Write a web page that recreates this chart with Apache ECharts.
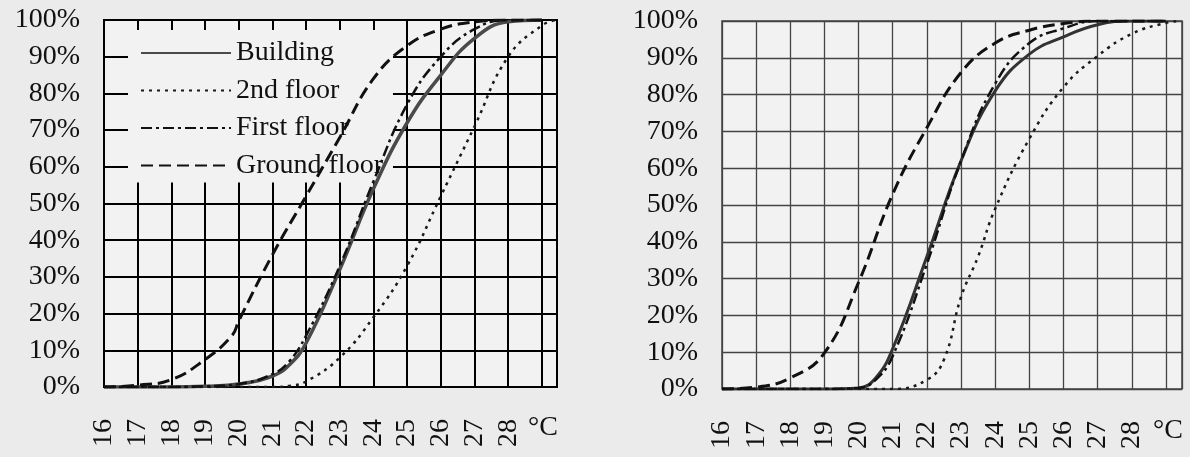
<!DOCTYPE html>
<html>
<head>
<meta charset="utf-8">
<script src="https://cdn.jsdelivr.net/npm/echarts@6/dist/echarts.min.js"></script>
<style>
html,body{margin:0;padding:0;background:#ebebeb;}
#chart{width:1190px;height:457px;}
</style>
</head>
<body>
<div id="chart"></div>
<script>
// ---- data: [temperature °C, cumulative %] ----
const seriesNames = ['Building', '2nd floor', 'First floor', 'Ground floor'];
const yTicks = [0,10,20,30,40,50,60,70,80,90,100];
const xTickLabels = [16,17,18,19,20,21,22,23,24,25,26,27,28];

const leftBuilding = [[16,0],[18,0],[19,0.2],[20,0.8],[21,3],[21.5,6],[22,12],[23,32],[24,54],[25,72],[26,85],[27,95],[28,99.5],[29,100]];
const left2nd      = [[16,0],[21,0],[21.5,0.3],[22,1.5],[23,8],[24,19],[25,33],[26,52],[27,71],[28,90],[29,98.5],[29.45,100]];
const leftFirst    = [[16,0],[18,0],[19,0.2],[20,0.8],[21,3.5],[21.5,7],[22,14],[23,33],[24,56],[25,77],[26,90],[27,97.5],[28,100],[29,100]];
const leftGround   = [[16,0],[17,0.5],[18,2],[19,7.5],[19.8,14],[20,18],[21,36],[22,52],[23,68],[24,84],[25,93],[26,97.5],[27,99.5],[28,100],[29,100]];

const rightBuilding = [[16,0],[19,0],[20,0.3],[20.5,3],[21,11],[22,36],[23,62],[24,81],[25,91],[26,95.7],[27,99],[28,100],[29,100]];
const right2nd      = [[16,0],[21,0],[22,2.5],[22.5,8],[23,25],[23.5,36],[24,49],[25,68],[26,82],[27,90.5],[28,96.5],[29,99.5],[29.45,100]];
const rightFirst    = [[16,0],[19,0],[20,0.3],[20.5,2.5],[21,9],[22,34],[23,62],[24,83],[25,94],[26,98],[27,100],[29,100]];
const rightGround   = [[16,0],[17,0.5],[18,3],[19,9.8],[20,29],[21,53],[22,71],[23,86],[24,94],[25,97.5],[26,99.3],[27,100],[29,100]];

const unitLabel = '°C';

// ---- chart ----
const FONT = "'Liberation Serif','Times New Roman',serif";
const FS = 28;
const chart = echarts.init(document.getElementById('chart'), null, {renderer:'canvas'});

function xAxisCfg(gridIndex, max, gridColor, gridWidth){
  return {
    type:'value', gridIndex, min:16, max, interval:1,
    axisLine:{show:false}, axisTick:{show:false},
    splitLine:{show:true, lineStyle:{color:gridColor, width:gridWidth}},
    axisLabel:{
      rotate:90, margin:32, color:'#111', fontFamily:FONT, fontSize:FS,
      showMaxLabel:false,
      formatter:v => (Number.isInteger(v) && xTickLabels.indexOf(v) >= 0) ? String(v) : ''
    }
  };
}
function yAxisCfg(gridIndex, gridColor, gridWidth){
  return {
    type:'value', gridIndex, min:yTicks[0], max:yTicks[yTicks.length-1], interval:10,
    axisLine:{show:false}, axisTick:{show:false},
    splitLine:{show:true, lineStyle:{color:gridColor, width:gridWidth}},
    axisLabel:{margin:24, color:'#111', fontFamily:FONT, fontSize:FS, formatter:'{value}%'}
  };
}
function line(name, data, idx, style){
  return {
    name, type:'line', data, xAxisIndex:idx, yAxisIndex:idx,
    symbol:'none', smooth:0.45, z:3,
    itemStyle:{color:style.color},
    lineStyle:style, emphasis:{disabled:true}, silent:true
  };
}

const Lstyle = {
  building:{color:'#4a4a4a', width:3.5, type:'solid'},
  second:{color:'#1a1a1a', width:2.5, type:[3,5]},
  first:{color:'#111', width:2.5, type:[11,4,3,4]},
  ground:{color:'#111', width:3, type:[12,6]}
};
const Rstyle = {
  building:{color:'#333', width:3, type:'solid'},
  second:{color:'#1a1a1a', width:2.5, type:[3,5]},
  first:{color:'#111', width:2.5, type:[11,4,3,4]},
  ground:{color:'#111', width:3, type:[12,6]}
};

chart.setOption({
  backgroundColor:'#ebebeb',
  animation:false,
  textStyle:{fontFamily:FONT},
  grid:[
    {left:104, top:20, width:453, height:367, show:true, backgroundColor:'#f2f2f2', borderColor:'#000', borderWidth:2},
    {left:722, top:21, width:460, height:368, show:true, backgroundColor:'#f2f2f2', borderColor:'#444', borderWidth:1.5}
  ],
  xAxis:[ xAxisCfg(0, 29.45, '#000', 2), xAxisCfg(1, 29.47, '#444', 1.3) ],
  yAxis:[ yAxisCfg(0, '#000', 2), yAxisCfg(1, '#444', 1.3) ],
  legend:{
    orient:'vertical', left:128, top:30, z:1,
    backgroundColor:'#f2f2f2',
    padding:[9,10,3,12],
    itemWidth:90, itemHeight:14, itemGap:9.5,
    selectedMode:false,
    itemStyle:{opacity:0},
    textStyle:{fontFamily:FONT, fontSize:FS, color:'#111', lineHeight:27},
    data:seriesNames
  },
  series:[
    line(seriesNames[0], leftBuilding, 0, Lstyle.building),
    line(seriesNames[1], left2nd, 0, Lstyle.second),
    line(seriesNames[2], leftFirst, 0, Lstyle.first),
    line(seriesNames[3], leftGround, 0, Lstyle.ground),
    line(seriesNames[0], rightBuilding, 1, Rstyle.building),
    line(seriesNames[1], right2nd, 1, Rstyle.second),
    line(seriesNames[2], rightFirst, 1, Rstyle.first),
    line(seriesNames[3], rightGround, 1, Rstyle.ground)
  ],
  graphic:[
    {type:'text', left:528, top:414, style:{text:unitLabel, font:FS+'px '+FONT, fill:'#111'}},
    {type:'text', left:1153, top:417, style:{text:unitLabel, font:FS+'px '+FONT, fill:'#111'}}
  ]
});
</script>
</body>
</html>
